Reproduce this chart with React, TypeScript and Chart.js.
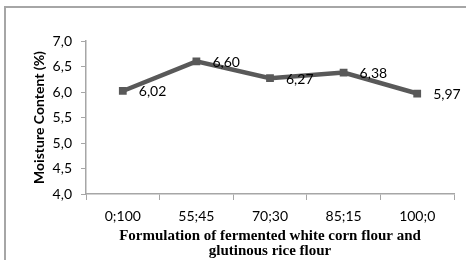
import React, { useEffect, useRef } from "react";
import { Chart, registerables } from "chart.js";

Chart.register(...registerables);

const categories = ["0;100", "55;45", "70;30", "85;15", "100;0"];
const moisture = [6.02, 6.6, 6.27, 6.38, 5.97];
const moistureLabels = ["6,02", "6,60", "6,27", "6,38", "5,97"];
const yTicks = [4.0, 4.5, 5.0, 5.5, 6.0, 6.5, 7.0];

const sans = "Lato, 'Open Sans', sans-serif";

const framePlugin = {
  id: "frame",
  beforeDraw(chart: any) {
    const ctx = chart.ctx;
    ctx.save();
    ctx.strokeStyle = "#a6a6a6";
    ctx.lineWidth = 2;
    ctx.beginPath();
    ctx.moveTo(5, 270);
    ctx.lineTo(5, 7);
    ctx.lineTo(480, 7);
    ctx.stroke();
    ctx.restore();
  },
};

const labelPlugin = {
  id: "pointLabels",
  afterDatasetsDraw(chart: any) {
    const ctx = chart.ctx;
    const meta = chart.getDatasetMeta(0);
    ctx.save();
    ctx.font = "14px " + sans;
    ctx.fillStyle = "#000";
    ctx.textAlign = "left";
    ctx.textBaseline = "middle";
    meta.data.forEach((pt: any, i: number) => {
      ctx.fillText(moistureLabels[i], pt.x + 16, pt.y + 1);
    });
    ctx.restore();
  },
};

export default function App() {
  const ref = useRef<HTMLCanvasElement>(null);
  useEffect(() => {
    document.body.style.margin = "0";
    const chart = new Chart(ref.current!, {
      type: "line",
      data: {
        labels: categories,
        datasets: [
          {
            data: moisture,
            borderColor: "#595959",
            backgroundColor: "#595959",
            borderWidth: 4.5,
            pointStyle: "rect",
            pointRadius: 5.5,
            pointBorderWidth: 0,
            pointBackgroundColor: "#595959",
            tension: 0,
          },
        ],
      },
      options: {
        responsive: false,
        animation: false,
        devicePixelRatio: 1,
        layout: { padding: { left: 0, right: 12, top: 41, bottom: 0 } },
        plugins: { legend: { display: false }, tooltip: { enabled: false } },
        scales: {
          x: {
            type: "category",
            offset: true,
            grid: {
              offset: true,
              drawOnChartArea: false,
              drawTicks: true,
              tickLength: 6,
              color: "#a6a6a6",
              lineWidth: 1,
            },
            border: { color: "#a6a6a6", width: 1.5 },
            ticks: {
              color: "#000",
              font: { family: sans, size: 14 },
              padding: 8,
              maxRotation: 0,
            },
            title: {
              display: true,
              text: ["Formulation of fermented white corn flour and", "glutinous rice flour"],
              color: "#000",
              font: { family: "'Liberation Serif', 'Times New Roman', serif", size: 15, weight: "bold", lineHeight: 1.0 },
              padding: { top: 0, bottom: 1 },
            },
            afterFit(scale: any) {
              scale.height = 66;
            },
          },
          y: {
            min: 4,
            max: 7,
            afterBuildTicks(scale: any) {
              scale.ticks = yTicks.map((v) => ({ value: v }));
            },
            grid: {
              drawOnChartArea: false,
              drawTicks: true,
              tickLength: 5,
              color: "#a6a6a6",
            },
            border: { color: "#a6a6a6", width: 1.5 },
            ticks: {
              color: "#000",
              font: { family: sans, size: 14 },
              padding: 9,
              callback: (v: any) => Number(v).toFixed(1).replace(".", ","),
            },
            title: {
              display: true,
              text: "Moisture Content (%)",
              color: "#000",
              font: { family: sans, size: 14, weight: "bold" },
              padding: { top: 31, bottom: 0 },
            },
            afterFit(scale: any) {
              scale.width = 86;
            },
          },
        },
      },
      plugins: [framePlugin, labelPlugin],
    } as any);
    return () => chart.destroy();
  }, []);
  return (
    <div style={{ position: "fixed", left: 0, top: 0, width: 466, height: 260, background: "#fff" }}>
      <canvas ref={ref} width={466} height={260} style={{ width: 466, height: 260 }} />
    </div>
  );
}
